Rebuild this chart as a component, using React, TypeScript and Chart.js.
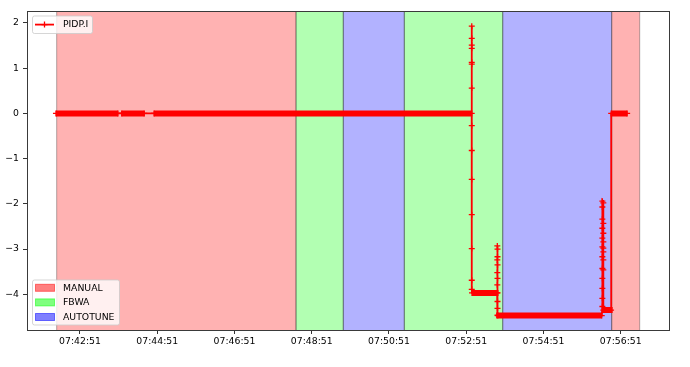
import React, { useEffect, useRef } from 'react';
import { Chart, registerables } from 'chart.js';

Chart.register(...registerables);

// ---------------- data ----------------
const SERIES_LABEL = 'PIDP.I';

// logged samples of PIDP.I (time of day, value)
const PIDP_TIMES: string[] = [
  '07:42:13.7', '07:43:50.0', '07:43:55.8', '07:44:30.9', '07:44:46.0', '07:52:59.5',
  '07:52:59.6', '07:52:59.6', '07:52:59.6', '07:52:59.6', '07:52:59.6', '07:52:59.6', '07:52:59.6',
  '07:52:59.6', '07:52:59.6', '07:52:59.6', '07:52:59.6', '07:52:59.6', '07:52:59.6', '07:52:59.6',
  '07:53:00.0', '07:53:39.0',
  '07:53:39.3', '07:53:39.3', '07:53:39.3', '07:53:39.3',
  '07:53:39.6', '07:53:39.6', '07:53:39.6', '07:53:39.6', '07:53:39.6', '07:53:39.6', '07:53:39.6', '07:53:39.6',
  '07:53:40.0', '07:56:21.5',
  '07:56:22.5', '07:56:22.5', '07:56:22.5', '07:56:22.5', '07:56:22.5', '07:56:22.5',
  '07:56:22.5', '07:56:22.5', '07:56:22.5', '07:56:22.5', '07:56:22.5', '07:56:22.5',
  '07:56:24.0', '07:56:24.0', '07:56:24.0', '07:56:24.0', '07:56:24.0', '07:56:24.0',
  '07:56:24.0', '07:56:24.0', '07:56:24.0',
  '07:56:36.0', '07:56:36.2', '07:57:01.0',
];
const PIDP_VALUES: number[] = [
  0, 0, 0, 0, 0, 0,
  1.93, 1.66, 1.51, 1.44, 1.13, 1.09, 0.56, -0.27, -0.82, -1.46, -2.24, -2.99, -3.69, -3.89,
  -3.97, -3.97,
  -3.79, -3.52, -3.24, -2.93,
  -3.0, -3.17, -3.35, -3.65, -3.97, -4.16, -4.31, -4.46,
  -4.47, -4.47,
  -4.27, -4.09, -3.87, -3.65, -3.43, -3.17, -2.95, -2.76, -2.54, -2.34, -2.07, -1.94,
  -1.98, -2.43, -2.65, -2.84, -2.98, -3.06, -3.24, -3.46, -4.35,
  -4.35, 0, 0,
];

// stretches where samples are so dense that the markers merge into a solid bar
const DENSE_STARTS: string[] = ['07:42:13.7', '07:43:55.8', '07:44:46.0', '07:53:00.0', '07:53:37.5', '07:56:22.0', '07:56:36.2'];
const DENSE_ENDS: string[] = ['07:43:50.0', '07:44:30.9', '07:52:59.5', '07:53:41.0', '07:56:21.5', '07:56:38.5', '07:57:01.0'];
const DENSE_LEVELS: number[] = [0, 0, 0, -3.97, -4.47, -4.35, 0];

// flight modes
const MODE_NAMES: string[] = ['MANUAL', 'FBWA', 'AUTOTUNE', 'FBWA', 'AUTOTUNE', 'MANUAL'];
const MODE_STARTS: string[] = ['07:42:14.8', '07:48:26.6', '07:49:40.0', '07:51:14.8', '07:53:47.7', '07:56:37.0'];
const MODE_ENDS: string[] = ['07:48:26.6', '07:49:40.0', '07:51:14.8', '07:53:47.7', '07:56:37.0', '07:57:20.5'];
const LEGEND_MODES: string[] = ['MANUAL', 'FBWA', 'AUTOTUNE'];

// axes
const X_TICKS: string[] = ['07:42:51', '07:44:51', '07:46:51', '07:48:51', '07:50:51', '07:52:51', '07:54:51', '07:56:51'];
const Y_TICKS: number[] = [-4, -3, -2, -1, 0, 1, 2];
const X_MIN = '07:41:28.7';
const X_MAX = '07:58:06.0';
const Y_MIN = -4.79;
const Y_MAX = 2.243;

// ---------------- styles ----------------
const MODE_RGB: Record<string, string> = {
  MANUAL: '255,0,0',
  FBWA: '0,255,0',
  AUTOTUNE: '0,0,255',
};
const FONT_FAMILY = 'DejaVu Sans';
const FONT_SIZE = 9.3;

function parseTime(s: string): number {
  const [h, m, sec] = s.split(':');
  return Number(h) * 3600 + Number(m) * 60 + Number(sec);
}
function formatTime(v: number): string {
  const t = Math.round(v);
  const h = Math.floor(t / 3600);
  const m = Math.floor((t % 3600) / 60);
  const s = t % 60;
  const p = (n: number) => String(n).padStart(2, '0');
  return `${p(h)}:${p(m)}:${p(s)}`;
}

function drawCross(ctx: CanvasRenderingContext2D, x: number, y: number, r: number) {
  ctx.beginPath();
  ctx.moveTo(x - r, y);
  ctx.lineTo(x + r, y);
  ctx.moveTo(x, y - r);
  ctx.lineTo(x, y + r);
  ctx.stroke();
}

function legendBox(ctx: CanvasRenderingContext2D, x: number, y: number, w: number, h: number) {
  ctx.beginPath();
  (ctx as any).roundRect(x, y, w, h, 2);
  ctx.fillStyle = 'rgba(255,255,255,0.8)';
  ctx.fill();
  ctx.strokeStyle = 'rgba(204,204,204,0.8)';
  ctx.lineWidth = 1;
  ctx.stroke();
}

const modesPlugin = {
  id: 'modesAndLegends',
  beforeDatasetsDraw(chart: any) {
    const { ctx, chartArea: a, scales } = chart;
    const xs = scales.x;
    ctx.save();
    ctx.beginPath();
    ctx.rect(a.left, a.top, a.right - a.left, a.bottom - a.top);
    ctx.clip();
    MODE_NAMES.forEach((m, i) => {
      const x0 = xs.getPixelForValue(parseTime(MODE_STARTS[i]));
      const x1 = xs.getPixelForValue(parseTime(MODE_ENDS[i]));
      ctx.fillStyle = `rgba(${MODE_RGB[m]},0.3)`;
      ctx.fillRect(x0, a.top, x1 - x0, a.bottom - a.top);
    });
    ctx.strokeStyle = 'rgba(0,0,0,0.3)';
    ctx.lineWidth = 1;
    MODE_NAMES.forEach((m, i) => {
      const x0 = xs.getPixelForValue(parseTime(MODE_STARTS[i]));
      const x1 = xs.getPixelForValue(parseTime(MODE_ENDS[i]));
      ctx.beginPath();
      ctx.moveTo(x0, a.top);
      ctx.lineTo(x0, a.bottom);
      ctx.moveTo(x1, a.top);
      ctx.lineTo(x1, a.bottom);
      ctx.stroke();
    });
    ctx.restore();
  },
  afterDraw(chart: any) {
    const { ctx, chartArea: a } = chart;
    ctx.save();
    // spines
    ctx.strokeStyle = '#3a3a3a';
    ctx.lineWidth = 1;
    ctx.strokeRect(a.left + 0.5, a.top - 0.5, a.right - a.left, a.bottom - a.top + 1);

    ctx.font = `${FONT_SIZE}px "${FONT_FAMILY}"`;
    ctx.textBaseline = 'middle';
    ctx.textAlign = 'left';

    // legend: series
    const l1x = a.left + 5.5;
    const l1y = a.top + 4;
    legendBox(ctx, l1x, l1y, 60, 17.5);
    const ry = l1y + 8.6;
    ctx.strokeStyle = 'red';
    ctx.lineWidth = 1.8;
    ctx.beginPath();
    ctx.moveTo(l1x + 2.5, ry);
    ctx.lineTo(l1x + 21.5, ry);
    ctx.stroke();
    ctx.lineWidth = 1.3;
    drawCross(ctx, l1x + 12, ry, 3);
    ctx.fillStyle = '#000';
    ctx.fillText(SERIES_LABEL, l1x + 30.5, ry + 0.3);

    // legend: modes
    const l2x = a.left + 5.5;
    const l2y = a.bottom - 50;
    legendBox(ctx, l2x, l2y, 87, 45);
    LEGEND_MODES.forEach((m, i) => {
      const cy = l2y + 7.8 + i * 14.6;
      ctx.fillStyle = `rgba(${MODE_RGB[m]},0.5)`;
      ctx.fillRect(l2x + 3, cy - 3.5, 19, 7);
      ctx.strokeStyle = `rgba(${MODE_RGB[m]},0.5)`;
      ctx.lineWidth = 1;
      ctx.strokeRect(l2x + 3, cy - 3.5, 19, 7);
      ctx.fillStyle = '#000';
      ctx.fillText(m, l2x + 30.5, cy + 0.3);
    });
    ctx.restore();
  },
};

export default function App() {
  const ref = useRef<HTMLCanvasElement>(null);

  useEffect(() => {
    if (!ref.current) return;
    const lineData = PIDP_TIMES.map((t, i) => ({ x: parseTime(t), y: PIDP_VALUES[i] }));
    const denseData: { x: number; y: number | null }[] = [];
    DENSE_STARTS.forEach((s, i) => {
      denseData.push({ x: parseTime(s), y: DENSE_LEVELS[i] });
      denseData.push({ x: parseTime(DENSE_ENDS[i]), y: DENSE_LEVELS[i] });
      denseData.push({ x: parseTime(DENSE_ENDS[i]), y: null });
    });
    const font = { family: FONT_FAMILY, size: FONT_SIZE };

    const chart = new Chart(ref.current, {
      type: 'line',
      data: {
        datasets: [
          {
            label: SERIES_LABEL + ' dense',
            data: denseData as any,
            borderColor: 'red',
            borderWidth: 6,
            borderCapStyle: 'butt',
            pointRadius: 0,
            spanGaps: false,
            tension: 0,
            order: 2,
          },
          {
            label: SERIES_LABEL,
            data: lineData,
            borderColor: 'red',
            backgroundColor: 'red',
            borderWidth: 1.8,
            pointStyle: 'cross',
            pointRadius: 3,
            pointBorderWidth: 1.3,
            pointBorderColor: 'red',
            tension: 0,
            order: 1,
          },
        ],
      },
      options: {
        responsive: false,
        animation: false,
        devicePixelRatio: 1,
        layout: { padding: { left: 0, right: 21, top: 12, bottom: 0 } },
        plugins: { legend: { display: false }, tooltip: { enabled: false } },
        scales: {
          x: {
            type: 'linear',
            min: parseTime(X_MIN),
            max: parseTime(X_MAX),
            afterBuildTicks: (s: any) => {
              s.ticks = X_TICKS.map((t) => ({ value: parseTime(t) }));
            },
            afterFit: (s: any) => {
              s.height = 37;
            },
            ticks: {
              callback: (v: any) => formatTime(Number(v)),
              font,
              color: '#000',
              padding: 2.5,
              maxRotation: 0,
              autoSkip: false,
            },
            grid: { display: true, drawOnChartArea: false, drawTicks: true, tickLength: 4, color: '#333', lineWidth: 1 },
            border: { display: false },
          },
          y: {
            type: 'linear',
            min: Y_MIN,
            max: Y_MAX,
            afterBuildTicks: (s: any) => {
              s.ticks = Y_TICKS.map((v) => ({ value: v }));
            },
            afterFit: (s: any) => {
              s.width = 27;
            },
            ticks: {
              callback: (v: any) => (Number(v) < 0 ? '\u2212' + Math.abs(Number(v)) : String(v)),
              font,
              color: '#000',
              padding: 4,
            },
            grid: { display: true, drawOnChartArea: false, drawTicks: true, tickLength: 4, color: '#333', lineWidth: 1 },
            border: { display: false },
          },
        },
      },
      plugins: [modesPlugin],
    } as any);

    return () => chart.destroy();
  }, []);

  return (
    <div style={{ position: 'fixed', left: 0, top: 0, width: 690, height: 367, background: '#fff' }}>
      <canvas ref={ref} width={690} height={367} style={{ display: 'block', width: 690, height: 367 }} />
    </div>
  );
}
